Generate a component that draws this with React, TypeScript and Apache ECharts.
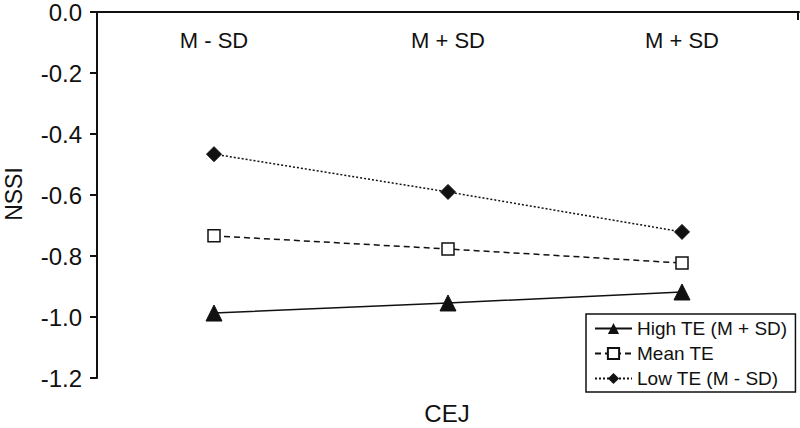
import React, { useEffect, useRef } from "react";
import * as echarts from "echarts";

const categories = ["M - SD", "M + SD", "M + SD"];
const highTE = [-0.987, -0.954, -0.918];
const meanTE = [-0.734, -0.777, -0.823];
const lowTE = [-0.466, -0.59, -0.721];
const seriesNames = ["High TE (M + SD)", "Mean TE", "Low TE (M - SD)"];

const FONT = "Liberation Sans, Arial, sans-serif";
const INK = "#111";

export default function App() {
  const ref = useRef<HTMLDivElement>(null);
  useEffect(() => {
    if (!ref.current) return;
    const chart = echarts.init(ref.current, null, { renderer: "svg" });
    const lineCommon = { color: INK, width: 1.5 };
    chart.setOption({
      animation: false,
      backgroundColor: "#fff",
      textStyle: { fontFamily: FONT, color: INK },
      grid: { left: 97, right: 1, top: 12, bottom: 50, outerBoundsMode: "none", containLabel: false },
      xAxis: {
        type: "category",
        data: categories,
        position: "top",
        boundaryGap: true,
        axisLine: { lineStyle: { color: INK, width: 2 } },
        axisTick: { show: false },
        axisLabel: { inside: true, margin: 17, fontSize: 22, color: INK, fontFamily: FONT, verticalAlign: "top" },
        splitLine: { show: false },
      },
      yAxis: {
        type: "value",
        min: -1.2,
        max: 0,
        interval: 0.2,
        axisLine: { show: true, onZero: false, lineStyle: { color: INK, width: 2 } },
        axisTick: { show: true, length: 7, lineStyle: { color: INK, width: 2 } },
        axisLabel: { fontSize: 24, color: INK, fontFamily: FONT, margin: 15, formatter: (v: number) => v.toFixed(1) },
        splitLine: { show: false },
      },
      legend: {
        left: 586,
        top: 314,
        orient: "vertical",
        backgroundColor: "#fff",
        borderColor: INK,
        borderWidth: 1.5,
        borderRadius: 0,
        padding: [5, 8, 4, 8],
        itemWidth: 37,
        itemHeight: 14,
        itemGap: 6,
        textStyle: { fontSize: 19, color: INK, fontFamily: FONT },
        data: seriesNames,
      },
      graphic: [
        { type: "line", shape: { x1: 798, y1: 12, x2: 798, y2: 20 }, style: { stroke: INK, lineWidth: 2 } },
        {
          type: "text",
          x: 447,
          y: 413,
          style: { text: "CEJ", fontSize: 24, fill: INK, fontFamily: FONT, align: "center", verticalAlign: "middle" },
        },
        {
          type: "text",
          x: 14,
          y: 194,
          rotation: Math.PI / 2,
          style: { text: "NSSI", fontSize: 23, fill: INK, fontFamily: FONT, align: "center", verticalAlign: "middle" },
        },
      ],
      series: [
        {
          name: seriesNames[0],
          type: "line",
          data: highTE,
          symbol: "triangle",
          symbolSize: 16,
          lineStyle: { ...lineCommon, type: "solid" },
          itemStyle: { color: INK, borderColor: INK },
        },
        {
          name: seriesNames[1],
          type: "line",
          data: meanTE,
          symbol: "rect",
          symbolSize: 12,
          lineStyle: { ...lineCommon, type: [6, 4] },
          itemStyle: { color: "#fff", borderColor: INK, borderWidth: 1.5 },
        },
        {
          name: seriesNames[2],
          type: "line",
          data: lowTE,
          symbol: "diamond",
          symbolSize: 15,
          lineStyle: { ...lineCommon, type: [2, 2] },
          itemStyle: { color: INK, borderColor: INK },
        },
      ],
    });
    return () => chart.dispose();
  }, []);
  return <div ref={ref} style={{ width: 800, height: 428, position: "absolute", left: 0, top: 0 }} />;
}
